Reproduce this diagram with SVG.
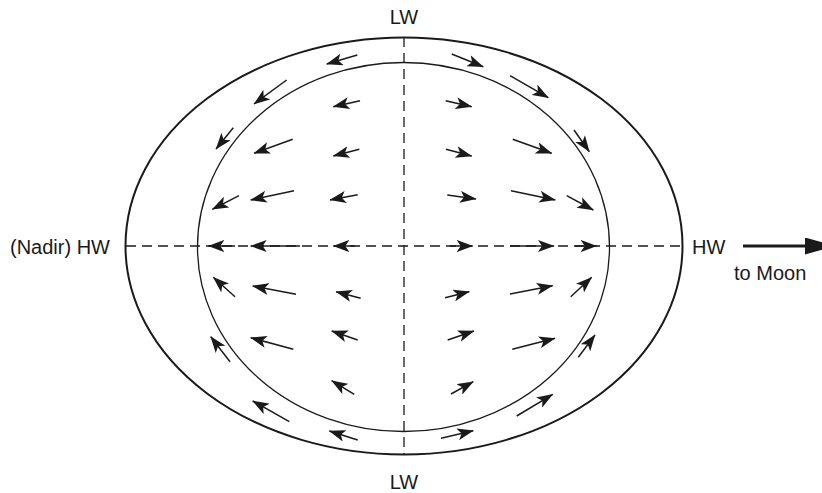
<svg xmlns="http://www.w3.org/2000/svg" width="822" height="493" viewBox="0 0 822 493">
<style>
.lbl{font-family:"Liberation Sans",Arial,sans-serif;font-size:20px;fill:#1a1a1a}
.ax{stroke:#1a1a1a;stroke-width:1.3;stroke-dasharray:10 6;fill:none}
.v{stroke:#1a1a1a;stroke-width:1.5;fill:none;marker-end:url(#ah)}
</style>
<defs>
<marker id="ah" markerUnits="userSpaceOnUse" viewBox="0 0 16.5 12" refX="16" refY="6" markerWidth="16.5" markerHeight="12" orient="auto">
<path d="M0,0 L16.5,6 L0,12 L4,6 Z" fill="#1a1a1a"/>
</marker>
<marker id="big" markerUnits="userSpaceOnUse" viewBox="0 0 30 17" refX="29" refY="8.5" markerWidth="30" markerHeight="17" orient="auto">
<path d="M0,0 L30,8.5 L0,17 Z" fill="#1a1a1a"/>
</marker>
</defs>
<rect width="822" height="493" fill="#ffffff"/>
<g id="earth">
<ellipse id="outer" cx="404" cy="246" rx="278.5" ry="208.5" fill="none" stroke="#1a1a1a" stroke-width="2"/>
<ellipse id="inner" cx="403.5" cy="247" rx="206" ry="184.5" fill="none" stroke="#1a1a1a" stroke-width="1.3"/>
</g>
<g id="axes">
<line class="ax" x1="126" y1="246" x2="683" y2="246"/>
<line class="ax" x1="404" y1="37" x2="404" y2="455"/>
</g>
<g id="connectors">
<line class="v" x1="357.3" y1="55" x2="326.7" y2="64"/>
<line class="v" x1="286.7" y1="80" x2="254" y2="104"/>
<line class="v" x1="360" y1="100.7" x2="333.3" y2="106.7"/>
<line class="v" x1="233.3" y1="127.7" x2="216" y2="149"/>
<line class="v" x1="292.7" y1="139.3" x2="254" y2="153.3"/>
<line class="v" x1="359.3" y1="149.3" x2="333.3" y2="156"/>
<line class="v" x1="239" y1="195.7" x2="212.3" y2="209.3"/>
<line class="v" x1="294" y1="190.7" x2="250.7" y2="200"/>
<line class="v" x1="357.7" y1="194.7" x2="330" y2="200"/>
<line class="v" x1="451.7" y1="54" x2="483.3" y2="66.7"/>
<line class="v" x1="510" y1="75.7" x2="548.3" y2="97.7"/>
<line class="v" x1="445.7" y1="100.7" x2="471.7" y2="106.7"/>
<line class="v" x1="574" y1="130" x2="589.3" y2="151.7"/>
<line class="v" x1="512.7" y1="139.3" x2="551.7" y2="153.3"/>
<line class="v" x1="446" y1="149.3" x2="471.7" y2="156"/>
<line class="v" x1="447.3" y1="195" x2="476" y2="199"/>
<line class="v" x1="511" y1="190.7" x2="555.3" y2="200"/>
<line class="v" x1="566.7" y1="195.7" x2="593.3" y2="210"/>
<line class="v" x1="235" y1="246" x2="208.3" y2="246"/>
<line class="v" x1="300" y1="246" x2="250.7" y2="246"/>
<line class="v" x1="355" y1="246" x2="333.3" y2="246"/>
<line class="v" x1="450" y1="246" x2="472.7" y2="246"/>
<line class="v" x1="510" y1="246" x2="554" y2="246"/>
<line class="v" x1="575" y1="246" x2="596.7" y2="246"/>
<line class="v" x1="235" y1="296.7" x2="213.3" y2="277.3"/>
<line class="v" x1="296" y1="294.3" x2="252.7" y2="286"/>
<line class="v" x1="360.7" y1="298.3" x2="336" y2="291.7"/>
<line class="v" x1="230" y1="361.7" x2="210.7" y2="336.7"/>
<line class="v" x1="293.3" y1="349.3" x2="250.7" y2="337.7"/>
<line class="v" x1="357.7" y1="340" x2="331.7" y2="331"/>
<line class="v" x1="354.3" y1="394.3" x2="331.7" y2="380.7"/>
<line class="v" x1="289.3" y1="421.7" x2="252.7" y2="401"/>
<line class="v" x1="357.7" y1="440" x2="329.3" y2="431"/>
<line class="v" x1="445" y1="297.7" x2="469.3" y2="291.7"/>
<line class="v" x1="510" y1="294" x2="552.7" y2="285.7"/>
<line class="v" x1="570.7" y1="296.7" x2="591.7" y2="277.3"/>
<line class="v" x1="447.7" y1="340" x2="474" y2="331"/>
<line class="v" x1="512.3" y1="349.3" x2="555" y2="338.3"/>
<line class="v" x1="578.3" y1="357.3" x2="595" y2="335"/>
<line class="v" x1="451" y1="394" x2="473.3" y2="381.7"/>
<line class="v" x1="516.7" y1="416" x2="552.7" y2="394.3"/>
<line class="v" x1="441" y1="438.3" x2="473.3" y2="430.7"/>
<line id="moon-arrow" x1="743" y1="246" x2="834" y2="246" stroke="#1a1a1a" stroke-width="3" marker-end="url(#big)"/>
</g>
<g id="labels">
<text class="lbl" x="404" y="24" text-anchor="middle">LW</text>
<text class="lbl" x="404" y="489" text-anchor="middle">LW</text>
<text class="lbl" x="10" y="254">(Nadir) HW</text>
<text class="lbl" x="692" y="254">HW</text>
<text class="lbl" x="734" y="280">to Moon</text>
</g>
</svg>
